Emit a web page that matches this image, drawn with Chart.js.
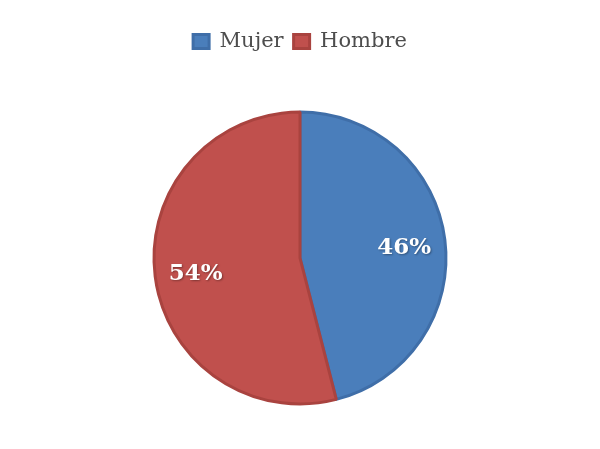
<!DOCTYPE html>
<html>
<head>
<meta charset="utf-8">
<script src="https://cdn.jsdelivr.net/npm/chart.js@4"></script>
<style>
html,body{margin:0;padding:0;background:#fff;}
#wrap{width:600px;height:449px;}
</style>
</head>
<body>
<div id="wrap"><canvas id="c" width="600" height="449"></canvas></div>
<script>
const categories = ["Mujer", "Hombre"];
const values = [46, 54];
const valueLabels = ["46%", "54%"];
const fillColors = ["#4a7ebb", "#c0504d"];
const edgeColors = ["#3f6ea8", "#a9433f"];

const labelPlugin = {
  id: 'sliceLabels',
  afterDatasetsDraw(chart) {
    const ctx = chart.ctx;
    const meta = chart.getDatasetMeta(0);
    ctx.save();
    ctx.font = 'bold 23px "DejaVu Serif"';
    ctx.fillStyle = '#ffffff';
    ctx.textAlign = 'center';
    ctx.textBaseline = 'middle';
    ctx.shadowColor = 'rgba(0,0,0,0.35)';
    ctx.shadowBlur = 2;
    ctx.shadowOffsetX = 1;
    ctx.shadowOffsetY = 1;
    meta.data.forEach((arc, i) => {
      const p = arc.getProps(['x','y','startAngle','endAngle','outerRadius'], true);
      const mid = (p.startAngle + p.endAngle) / 2;
      const r = p.outerRadius * 0.72;
      ctx.fillText(valueLabels[i], p.x + Math.cos(mid) * r, p.y + Math.sin(mid) * r + 3);
    });
    ctx.restore();
  }
};

const legendSpace = {
  id: 'legendSpace',
  beforeInit(chart) {
    const lg = chart.legend;
    if (lg) {
      const orig = lg.fit;
      lg.fit = function() { orig.call(this); this.height += 5; };
    }
  }
};

new Chart(document.getElementById('c'), {
  type: 'pie',
  data: {
    labels: categories,
    datasets: [{
      data: values,
      backgroundColor: fillColors,
      borderColor: edgeColors,
      borderWidth: 3,
      radius: 146
    }]
  },
  options: {
    responsive: false,
    animation: false,
    layout: { padding: { top: 21, bottom: 0 } },
    plugins: {
      legend: {
        position: 'top',
        labels: {
          color: '#4d4d4d',
          font: { family: '"DejaVu Serif"', size: 21 },
          boxWidth: 16,
          boxHeight: 14,
          padding: 10
        }
      },
      tooltip: { enabled: false }
    }
  },
  plugins: [labelPlugin, legendSpace]
});
</script>
</body>
</html>
